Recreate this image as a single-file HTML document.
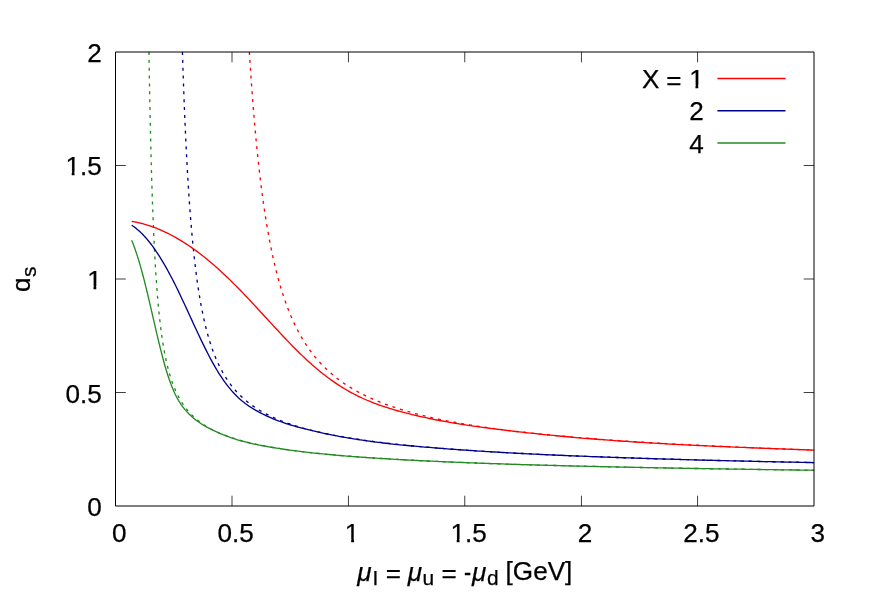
<!DOCTYPE html>
<html><head><meta charset="utf-8"><title>alpha_s</title>
<style>
html,body{margin:0;padding:0;background:#fff;}
body{width:872px;height:610px;overflow:hidden;}
svg{display:block;will-change:transform;}
text{font-family:"Liberation Sans",sans-serif;font-size:26.1px;fill:#000;stroke:#000;stroke-width:0.25px;}
.it{font-style:italic;}
.sub{font-size:20.9px;}
.curves path{fill:none;stroke-width:1.33;}
</style></head><body>
<svg width="872" height="610" viewBox="0 0 872 610">
<rect width="872" height="610" fill="#fff"/>
<path d="M232.00,506.00 v-10.30 M232.00,52.00 v10.30 M348.45,506.00 v-10.30 M348.45,52.00 v10.30 M464.75,506.00 v-10.30 M464.75,52.00 v10.30 M581.45,506.00 v-10.30 M581.45,52.00 v10.30 M697.55,506.00 v-10.30 M697.55,52.00 v10.30 M115.50,392.50 h10.30 M814.00,392.50 h-10.30 M115.50,279.00 h10.30 M814.00,279.00 h-10.30 M115.50,165.50 h10.30 M814.00,165.50 h-10.30" stroke="#000" stroke-width="0.75" fill="none"/>
<g>
<text x="119.30" y="542" text-anchor="middle">0</text>
<text x="235.72" y="542" text-anchor="middle">0.5</text>
<text x="352.13" y="542" text-anchor="middle">1</text>
<text x="468.55" y="542" text-anchor="middle">1.5</text>
<text x="584.97" y="542" text-anchor="middle">2</text>
<text x="701.38" y="542" text-anchor="middle">2.5</text>
<text x="817.80" y="542" text-anchor="middle">3</text>
<text x="101.7" y="516" text-anchor="end">0</text>
<text x="101.7" y="403" text-anchor="end">0.5</text>
<text x="101.7" y="289" text-anchor="end">1</text>
<text x="101.7" y="175" text-anchor="end">1.5</text>
<text x="101.7" y="62" text-anchor="end">2</text>
</g>
<g class="curves">
<path d="M249.35,52.00 L249.38,52.44 L249.43,53.33 L249.51,54.53 L249.60,56.00 L249.71,57.69 L249.83,59.59 L249.96,61.67 L250.11,63.91 L250.27,66.31 L250.44,68.84 L250.61,71.50 L250.80,74.27 L251.00,77.15 L251.21,80.13 L251.43,83.19 L251.65,86.33 L251.88,89.54 L252.13,92.82 L252.38,96.15 L252.64,99.54 L252.90,102.97 L253.18,106.44 L253.46,109.95 L253.75,113.48 L254.05,117.04 L254.35,120.62 L254.66,124.21 L254.98,127.81 L255.30,131.43 L255.64,135.04 L255.97,138.66 L256.32,142.27 L256.67,145.88 L257.03,149.48 L257.39,153.07 L257.76,156.64 L258.14,160.20 L258.52,163.74 L258.91,167.26 L259.31,170.76 L259.71,174.23 L260.12,177.68 L260.53,181.10 L260.95,184.49 L261.37,187.85 L261.80,191.19 L262.24,194.49 L262.68,197.76 L263.13,200.99 L263.58,204.19 L264.04,207.36 L264.50,210.49 L264.97,213.59 L265.45,216.65 L265.93,219.67 L266.41,222.66 L266.90,225.61 L267.40,228.52 L267.90,231.40 L268.40,234.23 L268.91,237.03 L269.43,239.80 L269.95,242.52 L270.47,245.21 L271.00,247.86 L271.54,250.47 L272.08,253.05 L272.62,255.59 L273.17,258.10 L273.73,260.56 L274.29,263.00 L274.85,265.39 L275.42,267.75 L276.00,270.08 L276.57,272.37 L277.16,274.63 L277.74,276.85 L278.34,279.04 L278.93,281.20 L279.54,283.32 L280.14,285.42 L280.75,287.48 L281.37,289.51 L281.99,291.50 L282.61,293.47 L283.24,295.41 L283.87,297.31 L284.51,299.19 L285.15,301.04 L285.79,302.86 L286.44,304.65 L287.10,306.42 L287.76,308.15 L288.42,309.86 L289.09,311.55 L289.76,313.21 L290.43,314.84 L291.11,316.45 L291.80,318.03 L292.49,319.59 L293.18,321.12 L293.87,322.63 L294.58,324.12 L295.28,325.59 L295.99,327.03 L296.70,328.45 L297.42,329.85 L298.14,331.23 L298.86,332.58 L299.59,333.92 L300.32,335.24 L301.06,336.53 L301.80,337.81 L302.55,339.07 L303.30,340.31 L304.05,341.53 L304.80,342.73 L305.56,343.92 L306.33,345.09 L307.10,346.24 L307.87,347.37 L308.64,348.49 L309.42,349.59 L310.21,350.67 L310.99,351.74 L311.78,352.80 L312.58,353.84 L313.38,354.86 L314.18,355.87 L314.99,356.86 L315.80,357.84 L316.61,358.81 L317.43,359.76 L318.25,360.70 L319.07,361.63 L319.90,362.55 L320.73,363.45 L321.57,364.34 L322.41,365.21 L323.25,366.08 L324.09,366.93 L324.94,367.77 L325.80,368.60 L326.66,369.42 L327.52,370.23 L328.38,371.03 L329.25,371.81 L330.12,372.59 L330.99,373.35 L331.87,374.11 L332.76,374.85 L333.64,375.59 L334.53,376.32 L335.42,377.03 L336.32,377.74 L337.22,378.44 L338.12,379.13 L339.03,379.81 L339.94,380.49 L340.85,381.15 L341.77,381.81 L342.69,382.45 L343.61,383.09 L344.54,383.72 L345.47,384.35 L346.40,384.96 L347.34,385.57 L348.28,386.17 L349.22,386.77 L350.17,387.36 L351.12,387.94 L352.07,388.51 L353.03,389.07 L353.99,389.63 L354.96,390.19 L355.92,390.73 L356.89,391.27 L357.87,391.81 L358.84,392.33 L359.82,392.86 L360.81,393.37 L361.79,393.88 L362.79,394.39 L363.78,394.88 L364.78,395.38 L365.77,395.86 L366.78,396.34 L367.78,396.82 L368.79,397.29 L369.81,397.76 L370.82,398.22 L371.84,398.67 L372.86,399.13 L373.89,399.57 L374.92,400.01 L375.95,400.45 L376.99,400.88 L378.02,401.31 L379.06,401.73 L380.11,402.15 L381.16,402.56 L382.21,402.97 L383.26,403.38 L384.32,403.78 L385.38,404.18 L386.44,404.57 L387.51,404.96 L388.58,405.34 L389.65,405.72 L390.73,406.10 L391.80,406.47 L392.89,406.84 L393.97,407.21 L395.06,407.57 L396.15,407.93 L397.24,408.29 L398.34,408.64 L399.44,408.99 L400.54,409.33 L401.65,409.67 L402.76,410.01 L403.87,410.35 L404.99,410.68 L406.10,411.01 L407.23,411.33 L408.35,411.66 L409.48,411.98 L410.61,412.29 L411.74,412.61 L412.88,412.92 L414.02,413.23 L415.16,413.53 L416.30,413.83 L417.45,414.13 L418.60,414.43 L419.75,414.72 L420.91,415.02 L422.07,415.31 L423.23,415.59 L424.40,415.88 L425.57,416.16 L426.74,416.44 L427.91,416.71 L429.09,416.99 L430.27,417.26 L431.45,417.53 L432.64,417.80 L433.83,418.06 L435.02,418.32 L436.21,418.58 L437.41,418.84 L438.61,419.10 L439.81,419.35 L441.02,419.60 L442.23,419.85 L443.44,420.10 L444.66,420.35 L445.87,420.59 L447.09,420.83 L448.32,421.07 L449.54,421.31 L450.77,421.55 L452.00,421.78 L453.24,422.01 L454.47,422.24 L455.71,422.47 L456.96,422.70 L458.20,422.92 L459.45,423.14 L460.70,423.36 L461.95,423.58 L463.21,423.80 L464.47,424.02 L465.73,424.23 L467.00,424.45 L468.27,424.66 L469.54,424.87 L470.81,425.07 L472.08,425.28 L473.36,425.48 L474.64,425.69 L475.93,425.89 L477.22,426.09 L478.51,426.29 L479.80,426.49 L481.09,426.68 L482.39,426.88 L483.69,427.07 L484.99,427.26 L486.30,427.45 L487.61,427.64 L488.92,427.83 L490.23,428.01 L491.55,428.20 L492.87,428.38 L494.19,428.56 L495.52,428.74 L496.85,428.92 L498.18,429.10 L499.51,429.28 L500.84,429.46 L502.18,429.63 L503.52,429.80 L504.87,429.98 L506.21,430.15 L507.56,430.32 L508.91,430.49 L510.27,430.65 L511.62,430.82 L512.98,430.98 L514.34,431.15 L515.71,431.31 L517.08,431.47 L518.45,431.63 L519.82,431.79 L521.19,431.95 L522.57,432.11 L523.95,432.27 L525.33,432.42 L526.72,432.58 L528.11,432.73 L529.50,432.88 L530.89,433.04 L532.29,433.19 L533.69,433.34 L535.09,433.49 L536.49,433.63 L537.90,433.78 L539.31,433.93 L540.72,434.07 L542.13,434.22 L543.55,434.36 L544.97,434.50 L546.39,434.64 L547.81,434.78 L549.24,434.92 L550.67,435.06 L552.10,435.20 L553.54,435.34 L554.97,435.47 L556.41,435.61 L557.85,435.74 L559.30,435.88 L560.75,436.01 L562.20,436.14 L563.65,436.27 L565.10,436.40 L566.56,436.53 L568.02,436.66 L569.48,436.79 L570.95,436.92 L572.41,437.05 L573.88,437.17 L575.36,437.30 L576.83,437.42 L578.31,437.55 L579.79,437.67 L581.27,437.79 L582.75,437.91 L584.24,438.04 L585.73,438.16 L587.22,438.28 L588.72,438.39 L590.21,438.51 L591.71,438.63 L593.22,438.75 L594.72,438.86 L596.23,438.98 L597.74,439.09 L599.25,439.21 L600.76,439.32 L602.28,439.44 L603.80,439.55 L605.32,439.66 L606.84,439.77 L608.37,439.88 L609.90,439.99 L611.43,440.10 L612.97,440.21 L614.50,440.32 L616.04,440.43 L617.58,440.53 L619.12,440.64 L620.67,440.75 L622.22,440.85 L623.77,440.96 L625.32,441.06 L626.88,441.17 L628.44,441.27 L630.00,441.37 L631.56,441.47 L633.13,441.58 L634.69,441.68 L636.26,441.78 L637.84,441.88 L639.41,441.98 L640.99,442.08 L642.57,442.18 L644.15,442.27 L645.73,442.37 L647.32,442.47 L648.91,442.56 L650.50,442.66 L652.09,442.76 L653.69,442.85 L655.29,442.95 L656.89,443.04 L658.49,443.13 L660.10,443.23 L661.71,443.32 L663.32,443.41 L664.93,443.50 L666.55,443.60 L668.16,443.69 L669.78,443.78 L671.40,443.87 L673.03,443.96 L674.66,444.05 L676.28,444.14 L677.92,444.22 L679.55,444.31 L681.19,444.40 L682.82,444.49 L684.47,444.57 L686.11,444.66 L687.75,444.75 L689.40,444.83 L691.05,444.92 L692.70,445.00 L694.36,445.08 L696.02,445.17 L697.67,445.25 L699.34,445.34 L701.00,445.42 L702.67,445.50 L704.34,445.58 L706.01,445.66 L707.68,445.74 L709.35,445.83 L711.03,445.91 L712.71,445.99 L714.39,446.07 L716.08,446.15 L717.77,446.22 L719.45,446.30 L721.15,446.38 L722.84,446.46 L724.54,446.54 L726.23,446.61 L727.93,446.69 L729.64,446.77 L731.34,446.84 L733.05,446.92 L734.76,447.00 L736.47,447.07 L738.19,447.15 L739.90,447.22 L741.62,447.29 L743.34,447.37 L745.06,447.44 L746.79,447.52 L748.52,447.59 L750.25,447.66 L751.98,447.73 L753.71,447.81 L755.45,447.88 L757.19,447.95 L758.93,448.02 L760.67,448.09 L762.42,448.16 L764.17,448.23 L765.92,448.30 L767.67,448.37 L769.42,448.44 L771.18,448.51 L772.94,448.58 L774.70,448.65 L776.46,448.71 L778.23,448.78 L780.00,448.85 L781.77,448.92 L783.54,448.98 L785.31,449.05 L787.09,449.12 L788.87,449.18 L790.65,449.25 L792.43,449.32 L794.22,449.38 L796.00,449.45 L797.79,449.51 L799.59,449.58 L801.38,449.64 L803.18,449.70 L804.97,449.77 L806.78,449.83 L808.58,449.89 L810.38,449.96 L812.19,450.02 L814.00,450.08" stroke="#ff0000" stroke-dasharray="3 4.87"/>
<path d="M182.43,52.00 L182.46,52.98 L182.52,54.96 L182.60,57.63 L182.71,60.85 L182.83,64.55 L182.96,68.65 L183.11,73.09 L183.27,77.83 L183.45,82.84 L183.64,88.06 L183.84,93.46 L184.05,99.02 L184.27,104.71 L184.50,110.50 L184.74,116.36 L185.00,122.29 L185.26,128.24 L185.53,134.22 L185.81,140.20 L186.10,146.17 L186.40,152.12 L186.71,158.03 L187.02,163.89 L187.34,169.70 L187.68,175.44 L188.02,181.12 L188.36,186.71 L188.72,192.22 L189.08,197.65 L189.45,202.99 L189.83,208.23 L190.22,213.37 L190.61,218.42 L191.01,223.36 L191.42,228.21 L191.84,232.95 L192.26,237.59 L192.69,242.13 L193.12,246.56 L193.56,250.89 L194.01,255.13 L194.47,259.26 L194.93,263.30 L195.40,267.23 L195.87,271.07 L196.35,274.82 L196.84,278.48 L197.34,282.04 L197.84,285.52 L198.34,288.90 L198.85,292.21 L199.37,295.43 L199.90,298.56 L200.43,301.62 L200.96,304.60 L201.51,307.51 L202.05,310.34 L202.61,313.10 L203.17,315.79 L203.73,318.41 L204.30,320.97 L204.88,323.46 L205.46,325.88 L206.05,328.25 L206.64,330.56 L207.24,332.81 L207.85,335.00 L208.46,337.14 L209.07,339.23 L209.69,341.27 L210.32,343.25 L210.95,345.19 L211.59,347.08 L212.23,348.93 L212.87,350.73 L213.53,352.49 L214.18,354.21 L214.85,355.88 L215.51,357.52 L216.19,359.12 L216.86,360.68 L217.55,362.21 L218.23,363.70 L218.93,365.16 L219.63,366.59 L220.33,367.98 L221.04,369.34 L221.75,370.67 L222.47,371.98 L223.19,373.25 L223.91,374.50 L224.65,375.72 L225.38,376.91 L226.12,378.08 L226.87,379.22 L227.62,380.34 L228.38,381.44 L229.14,382.51 L229.90,383.57 L230.67,384.60 L231.45,385.61 L232.23,386.60 L233.01,387.57 L233.80,388.52 L234.59,389.45 L235.39,390.37 L236.19,391.26 L236.99,392.14 L237.81,393.01 L238.62,393.85 L239.44,394.68 L240.26,395.50 L241.09,396.30 L241.93,397.09 L242.76,397.86 L243.60,398.62 L244.45,399.36 L245.30,400.09 L246.16,400.81 L247.01,401.51 L247.88,402.21 L248.75,402.89 L249.62,403.56 L250.49,404.22 L251.37,404.86 L252.26,405.50 L253.15,406.12 L254.04,406.74 L254.94,407.34 L255.84,407.94 L256.74,408.53 L257.65,409.10 L258.57,409.67 L259.49,410.23 L260.41,410.78 L261.34,411.32 L262.27,411.85 L263.20,412.37 L264.14,412.89 L265.08,413.40 L266.03,413.90 L266.98,414.39 L267.93,414.88 L268.89,415.36 L269.85,415.83 L270.82,416.29 L271.79,416.75 L272.77,417.20 L273.75,417.65 L274.73,418.09 L275.71,418.52 L276.70,418.95 L277.70,419.37 L278.70,419.78 L279.70,420.19 L280.71,420.60 L281.72,421.00 L282.73,421.39 L283.75,421.78 L284.77,422.16 L285.79,422.54 L286.82,422.91 L287.86,423.28 L288.89,423.64 L289.93,424.00 L290.98,424.35 L292.03,424.70 L293.08,425.05 L294.13,425.39 L295.19,425.73 L296.26,426.06 L297.32,426.39 L298.39,426.71 L299.47,427.03 L300.55,427.35 L301.63,427.66 L302.71,427.97 L303.80,428.28 L304.90,428.58 L305.99,428.88 L307.09,429.17 L308.20,429.46 L309.30,429.75 L310.41,430.03 L311.53,430.32 L312.65,430.59 L313.77,430.87 L314.90,431.14 L316.02,431.41 L317.16,431.68 L318.29,431.94 L319.43,432.20 L320.58,432.46 L321.72,432.71 L322.88,432.97 L324.03,433.22 L325.19,433.46 L326.35,433.71 L327.51,433.95 L328.68,434.19 L329.85,434.42 L331.03,434.66 L332.21,434.89 L333.39,435.12 L334.58,435.35 L335.76,435.57 L336.96,435.80 L338.15,436.02 L339.35,436.23 L340.56,436.45 L341.76,436.66 L342.97,436.88 L344.19,437.09 L345.40,437.29 L346.62,437.50 L347.85,437.70 L349.07,437.91 L350.30,438.11 L351.54,438.30 L352.78,438.50 L354.02,438.69 L355.26,438.89 L356.51,439.08 L357.76,439.27 L359.01,439.45 L360.27,439.64 L361.53,439.82 L362.79,440.01 L364.06,440.19 L365.33,440.37 L366.61,440.54 L367.88,440.72 L369.16,440.89 L370.45,441.07 L371.74,441.24 L373.03,441.41 L374.32,441.58 L375.62,441.74 L376.92,441.91 L378.22,442.07 L379.53,442.24 L380.84,442.40 L382.15,442.56 L383.47,442.72 L384.79,442.87 L386.11,443.03 L387.44,443.19 L388.77,443.34 L390.10,443.49 L391.44,443.64 L392.78,443.79 L394.12,443.94 L395.46,444.09 L396.81,444.23 L398.16,444.38 L399.52,444.52 L400.88,444.67 L402.24,444.81 L403.60,444.95 L404.97,445.09 L406.34,445.23 L407.72,445.36 L409.10,445.50 L410.48,445.64 L411.86,445.77 L413.25,445.90 L414.64,446.04 L416.03,446.17 L417.43,446.30 L418.82,446.43 L420.23,446.56 L421.63,446.68 L423.04,446.81 L424.45,446.94 L425.87,447.06 L427.29,447.18 L428.71,447.31 L430.13,447.43 L431.56,447.55 L432.99,447.67 L434.42,447.79 L435.86,447.91 L437.30,448.03 L438.74,448.14 L440.19,448.26 L441.63,448.37 L443.09,448.49 L444.54,448.60 L446.00,448.72 L447.46,448.83 L448.92,448.94 L450.39,449.05 L451.86,449.16 L453.33,449.27 L454.81,449.38 L456.29,449.48 L457.77,449.59 L459.25,449.70 L460.74,449.80 L462.23,449.91 L463.73,450.01 L465.22,450.12 L466.72,450.22 L468.23,450.32 L469.73,450.42 L471.24,450.52 L472.75,450.62 L474.27,450.72 L475.78,450.82 L477.30,450.92 L478.83,451.02 L480.35,451.11 L481.88,451.21 L483.42,451.31 L484.95,451.40 L486.49,451.50 L488.03,451.59 L489.57,451.68 L491.12,451.78 L492.67,451.87 L494.22,451.96 L495.78,452.05 L497.34,452.14 L498.90,452.23 L500.46,452.32 L502.03,452.41 L503.60,452.50 L505.17,452.59 L506.75,452.67 L508.33,452.76 L509.91,452.85 L511.49,452.93 L513.08,453.02 L514.67,453.10 L516.26,453.19 L517.86,453.27 L519.46,453.36 L521.06,453.44 L522.66,453.52 L524.27,453.60 L525.88,453.68 L527.49,453.77 L529.11,453.85 L530.73,453.93 L532.35,454.01 L533.97,454.09 L535.60,454.16 L537.23,454.24 L538.86,454.32 L540.50,454.40 L542.14,454.47 L543.78,454.55 L545.42,454.63 L547.07,454.70 L548.72,454.78 L550.37,454.85 L552.03,454.93 L553.68,455.00 L555.35,455.08 L557.01,455.15 L558.67,455.22 L560.34,455.30 L562.02,455.37 L563.69,455.44 L565.37,455.51 L567.05,455.58 L568.73,455.65 L570.42,455.72 L572.10,455.79 L573.79,455.86 L575.49,455.93 L577.19,456.00 L578.88,456.07 L580.59,456.14 L582.29,456.21 L584.00,456.27 L585.71,456.34 L587.42,456.41 L589.14,456.47 L590.86,456.54 L592.58,456.60 L594.30,456.67 L596.03,456.74 L597.76,456.80 L599.49,456.86 L601.22,456.93 L602.96,456.99 L604.70,457.06 L606.44,457.12 L608.19,457.18 L609.94,457.24 L611.69,457.31 L613.44,457.37 L615.20,457.43 L616.96,457.49 L618.72,457.55 L620.48,457.61 L622.25,457.67 L624.02,457.73 L625.79,457.79 L627.56,457.85 L629.34,457.91 L631.12,457.97 L632.90,458.03 L634.69,458.09 L636.48,458.15 L638.27,458.21 L640.06,458.26 L641.86,458.32 L643.66,458.38 L645.46,458.44 L647.26,458.49 L649.07,458.55 L650.88,458.61 L652.69,458.66 L654.50,458.72 L656.32,458.77 L658.14,458.83 L659.96,458.88 L661.79,458.94 L663.61,458.99 L665.44,459.05 L667.28,459.10 L669.11,459.15 L670.95,459.21 L672.79,459.26 L674.63,459.31 L676.48,459.36 L678.33,459.42 L680.18,459.47 L682.03,459.52 L683.89,459.57 L685.75,459.63 L687.61,459.68 L689.47,459.73 L691.34,459.78 L693.21,459.83 L695.08,459.88 L696.95,459.93 L698.83,459.98 L700.71,460.03 L702.59,460.08 L704.47,460.13 L706.36,460.18 L708.25,460.23 L710.14,460.28 L712.04,460.32 L713.93,460.37 L715.83,460.42 L717.73,460.47 L719.64,460.52 L721.55,460.56 L723.45,460.61 L725.37,460.66 L727.28,460.71 L729.20,460.75 L731.12,460.80 L733.04,460.85 L734.97,460.89 L736.89,460.94 L738.82,460.98 L740.76,461.03 L742.69,461.07 L744.63,461.12 L746.57,461.17 L748.51,461.21 L750.45,461.25 L752.40,461.30 L754.35,461.34 L756.30,461.39 L758.26,461.43 L760.22,461.48 L762.18,461.52 L764.14,461.56 L766.10,461.61 L768.07,461.65 L770.04,461.69 L772.01,461.74 L773.99,461.78 L775.97,461.82 L777.94,461.86 L779.93,461.91 L781.91,461.95 L783.90,461.99 L785.89,462.03 L787.88,462.07 L789.87,462.11 L791.87,462.16 L793.87,462.20 L795.87,462.24 L797.88,462.28 L799.88,462.32 L801.89,462.36 L803.91,462.40 L805.92,462.44 L807.94,462.48 L809.95,462.52 L811.98,462.56 L814.00,462.60" stroke="#00008b" stroke-dasharray="3 4.87"/>
<path d="M148.96,52.00 L149.00,54.06 L149.06,58.19 L149.15,63.69 L149.26,70.26 L149.38,77.66 L149.53,85.72 L149.68,94.28 L149.86,103.23 L150.04,112.46 L150.24,121.86 L150.45,131.35 L150.67,140.88 L150.90,150.37 L151.15,159.79 L151.40,169.07 L151.67,178.20 L151.95,187.14 L152.23,195.87 L152.53,204.37 L152.83,212.64 L153.15,220.65 L153.47,228.40 L153.80,235.90 L154.14,243.14 L154.49,250.12 L154.85,256.84 L155.22,263.32 L155.59,269.54 L155.97,275.53 L156.36,281.28 L156.76,286.80 L157.17,292.11 L157.58,297.20 L158.00,302.09 L158.43,306.78 L158.87,311.29 L159.31,315.61 L159.77,319.76 L160.22,323.75 L160.69,327.57 L161.16,331.25 L161.64,334.78 L162.13,338.17 L162.62,341.43 L163.12,344.57 L163.63,347.58 L164.14,350.48 L164.66,353.27 L165.19,355.96 L165.72,358.55 L166.26,361.04 L166.81,363.44 L167.36,365.76 L167.92,367.99 L168.48,370.15 L169.05,372.23 L169.63,374.24 L170.21,376.18 L170.80,378.05 L171.40,379.86 L172.00,381.61 L172.61,383.31 L173.22,384.95 L173.84,386.54 L174.46,388.08 L175.09,389.57 L175.73,391.01 L176.37,392.41 L177.02,393.77 L177.67,395.09 L178.33,396.37 L179.00,397.61 L179.67,398.82 L180.34,399.99 L181.02,401.13 L181.71,402.24 L182.40,403.32 L183.10,404.37 L183.80,405.39 L184.51,406.39 L185.23,407.35 L185.94,408.30 L186.67,409.22 L187.40,410.11 L188.13,410.99 L188.87,411.84 L189.62,412.67 L190.37,413.48 L191.12,414.27 L191.88,415.05 L192.65,415.80 L193.42,416.54 L194.20,417.26 L194.98,417.97 L195.76,418.66 L196.55,419.33 L197.35,419.99 L198.15,420.64 L198.96,421.27 L199.77,421.88 L200.58,422.49 L201.40,423.08 L202.23,423.66 L203.06,424.23 L203.89,424.79 L204.73,425.33 L205.57,425.87 L206.42,426.39 L207.28,426.91 L208.13,427.41 L209.00,427.91 L209.87,428.39 L210.74,428.87 L211.61,429.34 L212.50,429.80 L213.38,430.25 L214.27,430.69 L215.17,431.13 L216.07,431.56 L216.97,431.98 L217.88,432.39 L218.80,432.80 L219.71,433.19 L220.64,433.59 L221.56,433.97 L222.50,434.35 L223.43,434.72 L224.37,435.09 L225.32,435.45 L226.27,435.81 L227.22,436.16 L228.18,436.50 L229.14,436.84 L230.11,437.18 L231.08,437.50 L232.05,437.83 L233.03,438.15 L234.02,438.46 L235.00,438.77 L236.00,439.08 L236.99,439.38 L238.00,439.67 L239.00,439.96 L240.01,440.25 L241.02,440.54 L242.04,440.82 L243.06,441.09 L244.09,441.36 L245.12,441.63 L246.16,441.90 L247.19,442.16 L248.24,442.41 L249.28,442.67 L250.34,442.92 L251.39,443.17 L252.45,443.41 L253.51,443.65 L254.58,443.89 L255.65,444.13 L256.73,444.36 L257.81,444.59 L258.89,444.81 L259.98,445.04 L261.07,445.26 L262.17,445.48 L263.27,445.69 L264.37,445.90 L265.48,446.11 L266.59,446.32 L267.70,446.53 L268.82,446.73 L269.95,446.93 L271.08,447.13 L272.21,447.32 L273.34,447.52 L274.48,447.71 L275.62,447.90 L276.77,448.09 L277.92,448.27 L279.08,448.45 L280.23,448.64 L281.40,448.81 L282.56,448.99 L283.73,449.17 L284.91,449.34 L286.08,449.51 L287.27,449.68 L288.45,449.85 L289.64,450.02 L290.83,450.18 L292.03,450.34 L293.23,450.50 L294.43,450.66 L295.64,450.82 L296.85,450.98 L298.07,451.13 L299.29,451.29 L300.51,451.44 L301.74,451.59 L302.97,451.74 L304.20,451.88 L305.44,452.03 L306.68,452.17 L307.93,452.32 L309.17,452.46 L310.43,452.60 L311.68,452.74 L312.94,452.87 L314.20,453.01 L315.47,453.15 L316.74,453.28 L318.02,453.41 L319.29,453.54 L320.57,453.67 L321.86,453.80 L323.15,453.93 L324.44,454.06 L325.74,454.18 L327.04,454.31 L328.34,454.43 L329.64,454.55 L330.95,454.67 L332.27,454.79 L333.58,454.91 L334.90,455.03 L336.23,455.15 L337.56,455.26 L338.89,455.38 L340.22,455.49 L341.56,455.61 L342.90,455.72 L344.25,455.83 L345.60,455.94 L346.95,456.05 L348.30,456.16 L349.66,456.27 L351.02,456.37 L352.39,456.48 L353.76,456.58 L355.13,456.69 L356.51,456.79 L357.89,456.89 L359.27,457.00 L360.66,457.10 L362.05,457.20 L363.44,457.30 L364.84,457.40 L366.24,457.49 L367.64,457.59 L369.05,457.69 L370.46,457.78 L371.87,457.88 L373.29,457.97 L374.71,458.07 L376.13,458.16 L377.56,458.25 L378.99,458.34 L380.42,458.43 L381.86,458.52 L383.30,458.61 L384.74,458.70 L386.19,458.79 L387.64,458.88 L389.10,458.96 L390.55,459.05 L392.01,459.14 L393.48,459.22 L394.94,459.31 L396.41,459.39 L397.89,459.47 L399.36,459.56 L400.84,459.64 L402.33,459.72 L403.81,459.80 L405.30,459.88 L406.80,459.96 L408.29,460.04 L409.79,460.12 L411.30,460.20 L412.80,460.27 L414.31,460.35 L415.82,460.43 L417.34,460.51 L418.86,460.58 L420.38,460.66 L421.91,460.73 L423.43,460.81 L424.97,460.88 L426.50,460.95 L428.04,461.03 L429.58,461.10 L431.12,461.17 L432.67,461.24 L434.22,461.31 L435.78,461.38 L437.33,461.45 L438.89,461.52 L440.46,461.59 L442.02,461.66 L443.59,461.73 L445.17,461.80 L446.74,461.86 L448.32,461.93 L449.90,462.00 L451.49,462.06 L453.08,462.13 L454.67,462.20 L456.27,462.26 L457.86,462.33 L459.46,462.39 L461.07,462.45 L462.68,462.52 L464.29,462.58 L465.90,462.64 L467.52,462.71 L469.14,462.77 L470.76,462.83 L472.38,462.89 L474.01,462.95 L475.64,463.01 L477.28,463.07 L478.92,463.13 L480.56,463.19 L482.20,463.25 L483.85,463.31 L485.50,463.37 L487.15,463.43 L488.81,463.49 L490.47,463.54 L492.13,463.60 L493.80,463.66 L495.47,463.71 L497.14,463.77 L498.81,463.83 L500.49,463.88 L502.17,463.94 L503.85,463.99 L505.54,464.05 L507.23,464.10 L508.92,464.16 L510.62,464.21 L512.31,464.26 L514.02,464.32 L515.72,464.37 L517.43,464.42 L519.14,464.48 L520.85,464.53 L522.57,464.58 L524.29,464.63 L526.01,464.68 L527.73,464.74 L529.46,464.79 L531.19,464.84 L532.93,464.89 L534.66,464.94 L536.40,464.99 L538.15,465.04 L539.89,465.09 L541.64,465.14 L543.39,465.18 L545.15,465.23 L546.90,465.28 L548.66,465.33 L550.43,465.38 L552.19,465.43 L553.96,465.47 L555.73,465.52 L557.51,465.57 L559.29,465.61 L561.07,465.66 L562.85,465.71 L564.64,465.75 L566.43,465.80 L568.22,465.84 L570.01,465.89 L571.81,465.93 L573.61,465.98 L575.42,466.02 L577.22,466.07 L579.03,466.11 L580.84,466.16 L582.66,466.20 L584.48,466.25 L586.30,466.29 L588.12,466.33 L589.95,466.38 L591.78,466.42 L593.61,466.46 L595.45,466.50 L597.28,466.55 L599.12,466.59 L600.97,466.63 L602.81,466.67 L604.66,466.71 L606.51,466.75 L608.37,466.80 L610.23,466.84 L612.09,466.88 L613.95,466.92 L615.82,466.96 L617.69,467.00 L619.56,467.04 L621.43,467.08 L623.31,467.12 L625.19,467.16 L627.07,467.20 L628.96,467.24 L630.85,467.28 L632.74,467.31 L634.63,467.35 L636.53,467.39 L638.43,467.43 L640.33,467.47 L642.23,467.51 L644.14,467.54 L646.05,467.58 L647.97,467.62 L649.88,467.66 L651.80,467.69 L653.72,467.73 L655.65,467.77 L657.57,467.80 L659.50,467.84 L661.44,467.88 L663.37,467.91 L665.31,467.95 L667.25,467.99 L669.19,468.02 L671.14,468.06 L673.09,468.09 L675.04,468.13 L676.99,468.16 L678.95,468.20 L680.91,468.23 L682.87,468.27 L684.84,468.30 L686.81,468.34 L688.78,468.37 L690.75,468.41 L692.73,468.44 L694.70,468.47 L696.69,468.51 L698.67,468.54 L700.66,468.58 L702.65,468.61 L704.64,468.64 L706.63,468.68 L708.63,468.71 L710.63,468.74 L712.63,468.77 L714.64,468.81 L716.65,468.84 L718.66,468.87 L720.67,468.90 L722.69,468.94 L724.71,468.97 L726.73,469.00 L728.75,469.03 L730.78,469.06 L732.81,469.09 L734.84,469.13 L736.87,469.16 L738.91,469.19 L740.95,469.22 L742.99,469.25 L745.04,469.28 L747.09,469.31 L749.14,469.34 L751.19,469.37 L753.25,469.40 L755.31,469.43 L757.37,469.46 L759.43,469.49 L761.50,469.52 L763.57,469.55 L765.64,469.58 L767.71,469.61 L769.79,469.64 L771.87,469.67 L773.95,469.70 L776.03,469.73 L778.12,469.76 L780.21,469.79 L782.30,469.82 L784.40,469.85 L786.50,469.87 L788.60,469.90 L790.70,469.93 L792.80,469.96 L794.91,469.99 L797.02,470.02 L799.14,470.04 L801.25,470.07 L803.37,470.10 L805.49,470.13 L807.61,470.16 L809.74,470.18 L811.87,470.21 L814.00,470.24" stroke="#228b22" stroke-dasharray="3 4.87"/>
<path d="M131.71,221.39 L131.77,221.40 L131.91,221.42 L132.10,221.45 L132.32,221.49 L132.59,221.53 L132.89,221.58 L133.22,221.64 L133.58,221.70 L133.97,221.77 L134.38,221.85 L134.83,221.93 L135.29,222.02 L135.78,222.12 L136.29,222.22 L136.83,222.33 L137.39,222.45 L137.97,222.57 L138.57,222.70 L139.19,222.85 L139.83,223.00 L140.48,223.15 L141.16,223.32 L141.86,223.50 L142.58,223.69 L143.31,223.88 L144.06,224.09 L144.83,224.31 L145.62,224.53 L146.42,224.77 L147.24,225.02 L148.08,225.28 L148.93,225.56 L149.80,225.84 L150.68,226.14 L151.59,226.45 L152.50,226.78 L153.43,227.12 L154.38,227.47 L155.34,227.84 L156.32,228.22 L157.31,228.61 L158.32,229.02 L159.34,229.45 L160.38,229.89 L161.43,230.35 L162.49,230.82 L163.57,231.31 L164.66,231.82 L165.76,232.34 L166.88,232.88 L168.01,233.44 L169.16,234.02 L170.32,234.62 L171.49,235.23 L172.68,235.87 L173.88,236.52 L175.09,237.19 L176.31,237.89 L177.55,238.60 L178.80,239.33 L180.06,240.09 L181.33,240.86 L182.62,241.66 L183.92,242.48 L185.23,243.32 L186.56,244.18 L187.89,245.06 L189.24,245.97 L190.60,246.90 L191.97,247.85 L193.35,248.83 L194.75,249.83 L196.16,250.85 L197.57,251.90 L199.00,252.97 L200.45,254.07 L201.90,255.19 L203.36,256.34 L204.84,257.51 L206.32,258.71 L207.82,259.94 L209.33,261.19 L210.85,262.46 L212.38,263.76 L213.93,265.09 L215.48,266.45 L217.04,267.83 L218.62,269.24 L220.20,270.68 L221.80,272.15 L223.41,273.64 L225.02,275.16 L226.65,276.71 L228.29,278.28 L229.94,279.89 L231.60,281.51 L233.27,283.17 L234.95,284.85 L236.64,286.55 L238.34,288.28 L240.05,290.03 L241.77,291.81 L243.51,293.61 L245.25,295.43 L247.00,297.27 L248.76,299.14 L250.53,301.02 L252.32,302.92 L254.11,304.85 L255.91,306.79 L257.72,308.74 L259.54,310.72 L261.37,312.70 L263.21,314.71 L265.06,316.72 L266.92,318.75 L268.79,320.79 L270.67,322.83 L272.56,324.88 L274.46,326.94 L276.37,329.00 L278.29,331.07 L280.22,333.13 L282.15,335.19 L284.10,337.25 L286.05,339.31 L288.02,341.35 L289.99,343.39 L291.97,345.42 L293.97,347.44 L295.97,349.45 L297.98,351.45 L300.00,353.42 L302.03,355.39 L304.07,357.33 L306.11,359.25 L308.17,361.15 L310.24,363.03 L312.31,364.88 L314.39,366.70 L316.49,368.49 L318.59,370.25 L320.70,371.98 L322.82,373.68 L324.94,375.34 L327.08,376.97 L329.23,378.56 L331.38,380.12 L333.54,381.64 L335.72,383.13 L337.90,384.59 L340.09,386.01 L342.28,387.39 L344.49,388.74 L346.70,390.05 L348.93,391.33 L351.16,392.57 L353.40,393.77 L355.65,394.94 L357.91,396.07 L360.17,397.17 L362.45,398.23 L364.73,399.26 L367.02,400.25 L369.32,401.21 L371.63,402.14 L373.95,403.05 L376.27,403.92 L378.61,404.77 L380.95,405.59 L383.30,406.39 L385.66,407.17 L388.02,407.92 L390.40,408.65 L392.78,409.37 L395.17,410.07 L397.57,410.75 L399.98,411.42 L402.39,412.07 L404.82,412.72 L407.25,413.35 L409.69,413.97 L412.14,414.57 L414.59,415.17 L417.06,415.75 L419.53,416.32 L422.01,416.88 L424.50,417.43 L426.99,417.97 L429.50,418.50 L432.01,419.02 L434.53,419.53 L437.06,420.02 L439.59,420.51 L442.13,420.99 L444.69,421.46 L447.24,421.92 L449.81,422.37 L452.39,422.81 L454.97,423.24 L457.56,423.67 L460.16,424.09 L462.76,424.50 L465.37,424.90 L467.99,425.29 L470.62,425.68 L473.26,426.07 L475.90,426.44 L478.55,426.81 L481.21,427.18 L483.88,427.54 L486.55,427.89 L489.24,428.25 L491.93,428.59 L494.62,428.94 L497.33,429.28 L500.04,429.61 L502.76,429.95 L505.49,430.28 L508.22,430.61 L510.96,430.93 L513.71,431.25 L516.47,431.57 L519.23,431.89 L522.01,432.20 L524.78,432.51 L527.57,432.81 L530.37,433.12 L533.17,433.41 L535.98,433.71 L538.79,434.00 L541.61,434.30 L544.45,434.58 L547.28,434.87 L550.13,435.15 L552.98,435.43 L555.84,435.70 L558.71,435.97 L561.58,436.24 L564.46,436.51 L567.35,436.77 L570.25,437.03 L573.15,437.29 L576.06,437.54 L578.98,437.79 L581.90,438.04 L584.83,438.29 L587.77,438.53 L590.72,438.77 L593.67,439.01 L596.63,439.24 L599.60,439.47 L602.57,439.70 L605.56,439.92 L608.54,440.15 L611.54,440.37 L614.54,440.58 L617.55,440.80 L620.57,441.01 L623.59,441.22 L626.62,441.42 L629.66,441.63 L632.70,441.83 L635.75,442.03 L638.81,442.22 L641.88,442.41 L644.95,442.61 L648.03,442.79 L651.12,442.98 L654.21,443.16 L657.31,443.34 L660.41,443.52 L663.53,443.70 L666.65,443.87 L669.78,444.05 L672.91,444.22 L676.05,444.38 L679.20,444.55 L682.35,444.71 L685.51,444.87 L688.68,445.03 L691.86,445.18 L695.04,445.34 L698.23,445.49 L701.42,445.64 L704.62,445.78 L707.83,445.93 L711.05,446.08 L714.27,446.22 L717.50,446.36 L720.73,446.50 L723.97,446.64 L727.22,446.78 L730.48,446.92 L733.74,447.05 L737.01,447.19 L740.28,447.32 L743.57,447.46 L746.85,447.59 L750.15,447.72 L753.45,447.86 L756.76,447.99 L760.07,448.12 L763.40,448.25 L766.72,448.38 L770.06,448.51 L773.40,448.64 L776.75,448.77 L780.10,448.90 L783.46,449.03 L786.83,449.16 L790.20,449.28 L793.58,449.41 L796.97,449.53 L800.36,449.65 L803.76,449.78 L807.17,449.90 L810.58,450.01 L814.00,450.13" stroke="#ff0000"/>
<path d="M131.71,225.23 L131.77,225.27 L131.91,225.36 L132.10,225.48 L132.32,225.63 L132.59,225.80 L132.89,226.00 L133.22,226.23 L133.58,226.48 L133.97,226.76 L134.38,227.06 L134.83,227.38 L135.29,227.74 L135.78,228.12 L136.29,228.52 L136.83,228.96 L137.39,229.42 L137.97,229.91 L138.57,230.44 L139.19,230.99 L139.83,231.58 L140.48,232.20 L141.16,232.86 L141.86,233.55 L142.58,234.27 L143.31,235.04 L144.06,235.84 L144.83,236.68 L145.62,237.56 L146.42,238.48 L147.24,239.44 L148.08,240.45 L148.93,241.49 L149.80,242.59 L150.68,243.73 L151.59,244.91 L152.50,246.15 L153.43,247.43 L154.38,248.76 L155.34,250.15 L156.32,251.58 L157.31,253.07 L158.32,254.60 L159.34,256.20 L160.38,257.84 L161.43,259.55 L162.49,261.31 L163.57,263.12 L164.66,265.00 L165.76,266.93 L166.88,268.93 L168.01,270.98 L169.16,273.09 L170.32,275.27 L171.49,277.51 L172.68,279.80 L173.88,282.16 L175.09,284.57 L176.31,287.04 L177.55,289.56 L178.80,292.14 L180.06,294.77 L181.33,297.45 L182.62,300.18 L183.92,302.95 L185.23,305.77 L186.56,308.62 L187.89,311.52 L189.24,314.45 L190.60,317.41 L191.97,320.40 L193.35,323.41 L194.75,326.44 L196.16,329.48 L197.57,332.52 L199.00,335.57 L200.45,338.61 L201.90,341.64 L203.36,344.66 L204.84,347.65 L206.32,350.63 L207.82,353.57 L209.33,356.47 L210.85,359.33 L212.38,362.15 L213.93,364.91 L215.48,367.61 L217.04,370.25 L218.62,372.82 L220.20,375.31 L221.80,377.73 L223.41,380.07 L225.02,382.34 L226.65,384.53 L228.29,386.64 L229.94,388.67 L231.60,390.63 L233.27,392.50 L234.95,394.30 L236.64,396.01 L238.34,397.64 L240.05,399.20 L241.77,400.68 L243.51,402.10 L245.25,403.45 L247.00,404.73 L248.76,405.96 L250.53,407.14 L252.32,408.27 L254.11,409.35 L255.91,410.40 L257.72,411.41 L259.54,412.39 L261.37,413.35 L263.21,414.27 L265.06,415.18 L266.92,416.05 L268.79,416.90 L270.67,417.73 L272.56,418.53 L274.46,419.30 L276.37,420.06 L278.29,420.79 L280.22,421.50 L282.15,422.19 L284.10,422.86 L286.05,423.51 L288.02,424.15 L289.99,424.76 L291.97,425.36 L293.97,425.95 L295.97,426.52 L297.98,427.08 L300.00,427.62 L302.03,428.16 L304.07,428.68 L306.11,429.20 L308.17,429.71 L310.24,430.22 L312.31,430.71 L314.39,431.20 L316.49,431.69 L318.59,432.16 L320.70,432.63 L322.82,433.09 L324.94,433.54 L327.08,433.99 L329.23,434.43 L331.38,434.86 L333.54,435.29 L335.72,435.71 L337.90,436.12 L340.09,436.53 L342.28,436.93 L344.49,437.32 L346.70,437.70 L348.93,438.08 L351.16,438.45 L353.40,438.82 L355.65,439.17 L357.91,439.53 L360.17,439.87 L362.45,440.21 L364.73,440.54 L367.02,440.87 L369.32,441.19 L371.63,441.50 L373.95,441.81 L376.27,442.11 L378.61,442.40 L380.95,442.69 L383.30,442.98 L385.66,443.26 L388.02,443.53 L390.40,443.80 L392.78,444.06 L395.17,444.32 L397.57,444.57 L399.98,444.82 L402.39,445.06 L404.82,445.29 L407.25,445.52 L409.69,445.75 L412.14,445.97 L414.59,446.19 L417.06,446.41 L419.53,446.62 L422.01,446.83 L424.50,447.04 L426.99,447.25 L429.50,447.45 L432.01,447.66 L434.53,447.86 L437.06,448.06 L439.59,448.26 L442.13,448.46 L444.69,448.66 L447.24,448.86 L449.81,449.05 L452.39,449.25 L454.97,449.44 L457.56,449.63 L460.16,449.81 L462.76,450.00 L465.37,450.18 L467.99,450.35 L470.62,450.53 L473.26,450.70 L475.90,450.87 L478.55,451.04 L481.21,451.21 L483.88,451.37 L486.55,451.54 L489.24,451.70 L491.93,451.86 L494.62,452.02 L497.33,452.18 L500.04,452.33 L502.76,452.48 L505.49,452.64 L508.22,452.79 L510.96,452.93 L513.71,453.08 L516.47,453.23 L519.23,453.37 L522.01,453.51 L524.78,453.65 L527.57,453.79 L530.37,453.93 L533.17,454.07 L535.98,454.20 L538.79,454.34 L541.61,454.47 L544.45,454.60 L547.28,454.73 L550.13,454.86 L552.98,454.99 L555.84,455.12 L558.71,455.24 L561.58,455.37 L564.46,455.49 L567.35,455.61 L570.25,455.73 L573.15,455.85 L576.06,455.97 L578.98,456.09 L581.90,456.20 L584.83,456.32 L587.77,456.43 L590.72,456.55 L593.67,456.66 L596.63,456.77 L599.60,456.88 L602.57,456.99 L605.56,457.10 L608.54,457.21 L611.54,457.31 L614.54,457.42 L617.55,457.52 L620.57,457.63 L623.59,457.73 L626.62,457.83 L629.66,457.93 L632.70,458.03 L635.75,458.13 L638.81,458.23 L641.88,458.33 L644.95,458.43 L648.03,458.52 L651.12,458.62 L654.21,458.72 L657.31,458.81 L660.41,458.90 L663.53,459.00 L666.65,459.09 L669.78,459.18 L672.91,459.27 L676.05,459.36 L679.20,459.45 L682.35,459.54 L685.51,459.63 L688.68,459.71 L691.86,459.80 L695.04,459.88 L698.23,459.97 L701.42,460.05 L704.62,460.14 L707.83,460.22 L711.05,460.30 L714.27,460.39 L717.50,460.47 L720.73,460.55 L723.97,460.63 L727.22,460.71 L730.48,460.79 L733.74,460.87 L737.01,460.94 L740.28,461.02 L743.57,461.10 L746.85,461.18 L750.15,461.25 L753.45,461.33 L756.76,461.40 L760.07,461.48 L763.40,461.55 L766.72,461.62 L770.06,461.70 L773.40,461.77 L776.75,461.84 L780.10,461.91 L783.46,461.98 L786.83,462.05 L790.20,462.12 L793.58,462.19 L796.97,462.26 L800.36,462.33 L803.76,462.40 L807.17,462.47 L810.58,462.53 L814.00,462.60" stroke="#00008b"/>
<path d="M131.71,240.24 L131.77,240.41 L131.91,240.74 L132.10,241.20 L132.32,241.77 L132.59,242.43 L132.89,243.20 L133.22,244.06 L133.58,245.01 L133.97,246.06 L134.38,247.20 L134.83,248.44 L135.29,249.77 L135.78,251.20 L136.29,252.73 L136.83,254.36 L137.39,256.09 L137.97,257.94 L138.57,259.89 L139.19,261.95 L139.83,264.12 L140.48,266.41 L141.16,268.82 L141.86,271.36 L142.58,274.01 L143.31,276.79 L144.06,279.69 L144.83,282.72 L145.62,285.87 L146.42,289.14 L147.24,292.52 L148.08,296.02 L148.93,299.62 L149.80,303.33 L150.68,307.14 L151.59,311.04 L152.50,315.03 L153.43,319.09 L154.38,323.21 L155.34,327.39 L156.32,331.60 L157.31,335.83 L158.32,340.06 L159.34,344.28 L160.38,348.48 L161.43,352.64 L162.49,356.75 L163.57,360.78 L164.66,364.72 L165.76,368.55 L166.88,372.25 L168.01,375.81 L169.16,379.23 L170.32,382.49 L171.49,385.61 L172.68,388.57 L173.88,391.37 L175.09,394.01 L176.31,396.48 L177.55,398.79 L178.80,400.95 L180.06,402.97 L181.33,404.85 L182.62,406.62 L183.92,408.28 L185.23,409.85 L186.56,411.35 L187.89,412.78 L189.24,414.16 L190.60,415.48 L191.97,416.74 L193.35,417.96 L194.75,419.12 L196.16,420.23 L197.57,421.29 L199.00,422.32 L200.45,423.29 L201.90,424.23 L203.36,425.14 L204.84,426.01 L206.32,426.85 L207.82,427.66 L209.33,428.45 L210.85,429.22 L212.38,429.98 L213.93,430.72 L215.48,431.45 L217.04,432.16 L218.62,432.86 L220.20,433.54 L221.80,434.20 L223.41,434.85 L225.02,435.49 L226.65,436.10 L228.29,436.71 L229.94,437.30 L231.60,437.87 L233.27,438.43 L234.95,438.98 L236.64,439.51 L238.34,440.02 L240.05,440.52 L241.77,441.01 L243.51,441.48 L245.25,441.94 L247.00,442.39 L248.76,442.83 L250.53,443.25 L252.32,443.66 L254.11,444.05 L255.91,444.44 L257.72,444.81 L259.54,445.17 L261.37,445.52 L263.21,445.86 L265.06,446.20 L266.92,446.52 L268.79,446.84 L270.67,447.15 L272.56,447.47 L274.46,447.77 L276.37,448.08 L278.29,448.38 L280.22,448.68 L282.15,448.98 L284.10,449.27 L286.05,449.56 L288.02,449.84 L289.99,450.11 L291.97,450.38 L293.97,450.65 L295.97,450.91 L297.98,451.16 L300.00,451.41 L302.03,451.66 L304.07,451.90 L306.11,452.14 L308.17,452.38 L310.24,452.61 L312.31,452.84 L314.39,453.06 L316.49,453.28 L318.59,453.50 L320.70,453.71 L322.82,453.92 L324.94,454.13 L327.08,454.33 L329.23,454.53 L331.38,454.73 L333.54,454.93 L335.72,455.12 L337.90,455.31 L340.09,455.50 L342.28,455.68 L344.49,455.87 L346.70,456.05 L348.93,456.22 L351.16,456.40 L353.40,456.57 L355.65,456.74 L357.91,456.91 L360.17,457.07 L362.45,457.24 L364.73,457.40 L367.02,457.56 L369.32,457.72 L371.63,457.87 L373.95,458.02 L376.27,458.18 L378.61,458.33 L380.95,458.47 L383.30,458.62 L385.66,458.76 L388.02,458.91 L390.40,459.05 L392.78,459.19 L395.17,459.33 L397.57,459.46 L399.98,459.60 L402.39,459.73 L404.82,459.86 L407.25,459.99 L409.69,460.12 L412.14,460.25 L414.59,460.37 L417.06,460.50 L419.53,460.62 L422.01,460.74 L424.50,460.86 L426.99,460.98 L429.50,461.10 L432.01,461.21 L434.53,461.33 L437.06,461.44 L439.59,461.56 L442.13,461.67 L444.69,461.78 L447.24,461.89 L449.81,462.00 L452.39,462.10 L454.97,462.21 L457.56,462.32 L460.16,462.42 L462.76,462.52 L465.37,462.63 L467.99,462.73 L470.62,462.83 L473.26,462.93 L475.90,463.02 L478.55,463.12 L481.21,463.22 L483.88,463.31 L486.55,463.41 L489.24,463.50 L491.93,463.60 L494.62,463.69 L497.33,463.78 L500.04,463.87 L502.76,463.96 L505.49,464.05 L508.22,464.14 L510.96,464.22 L513.71,464.31 L516.47,464.40 L519.23,464.48 L522.01,464.57 L524.78,464.65 L527.57,464.73 L530.37,464.81 L533.17,464.90 L535.98,464.98 L538.79,465.06 L541.61,465.14 L544.45,465.22 L547.28,465.29 L550.13,465.37 L552.98,465.45 L555.84,465.52 L558.71,465.60 L561.58,465.67 L564.46,465.75 L567.35,465.82 L570.25,465.90 L573.15,465.97 L576.06,466.04 L578.98,466.11 L581.90,466.18 L584.83,466.25 L587.77,466.32 L590.72,466.39 L593.67,466.46 L596.63,466.53 L599.60,466.60 L602.57,466.67 L605.56,466.73 L608.54,466.80 L611.54,466.87 L614.54,466.93 L617.55,467.00 L620.57,467.06 L623.59,467.12 L626.62,467.19 L629.66,467.25 L632.70,467.31 L635.75,467.38 L638.81,467.44 L641.88,467.50 L644.95,467.56 L648.03,467.62 L651.12,467.68 L654.21,467.74 L657.31,467.80 L660.41,467.86 L663.53,467.92 L666.65,467.97 L669.78,468.03 L672.91,468.09 L676.05,468.15 L679.20,468.20 L682.35,468.26 L685.51,468.32 L688.68,468.37 L691.86,468.43 L695.04,468.48 L698.23,468.53 L701.42,468.59 L704.62,468.64 L707.83,468.70 L711.05,468.75 L714.27,468.80 L717.50,468.85 L720.73,468.90 L723.97,468.96 L727.22,469.01 L730.48,469.06 L733.74,469.11 L737.01,469.16 L740.28,469.21 L743.57,469.26 L746.85,469.31 L750.15,469.36 L753.45,469.41 L756.76,469.46 L760.07,469.50 L763.40,469.55 L766.72,469.60 L770.06,469.65 L773.40,469.69 L776.75,469.74 L780.10,469.79 L783.46,469.83 L786.83,469.88 L790.20,469.93 L793.58,469.97 L796.97,470.02 L800.36,470.06 L803.76,470.11 L807.17,470.15 L810.58,470.19 L814.00,470.24" stroke="#228b22"/>
</g>
<rect x="115.5" y="52.0" width="698.50" height="454.00" fill="none" stroke="#000" stroke-width="1" stroke-linejoin="round"/>
<g>
<text><tspan x="642.03" y="88">X </tspan><tspan x="666.25" y="89">= </tspan><tspan x="689.19" y="88">1</tspan></text>
<text x="703.7" y="120" text-anchor="end">2</text>
<text x="703.7" y="153" text-anchor="end">4</text>
<g class="curves">
<path d="M717.4,78.5 H785.5" stroke="#ff0000"/>
<path d="M717.4,110.75 H785.5" stroke="#00008b"/>
<path d="M717.4,143 H785.5" stroke="#228b22"/>
</g>
</g>
<text transform="translate(29.5,292) rotate(-90)">ɑ<tspan class="sub" dx="0.5" dy="6.4">s</tspan></text>
<text><tspan class="it" x="357.2" y="581">μ</tspan><tspan class="sub" x="372.6" y="585">I </tspan><tspan x="385.8" y="582">= </tspan><tspan class="it" x="407.7" y="581">μ</tspan><tspan class="sub" x="422.6" y="585">u </tspan><tspan x="441.6" y="582">= </tspan><tspan x="464.0" y="581" textLength="7.2" lengthAdjust="spacingAndGlyphs">-</tspan><tspan class="it" x="471.9" y="581">μ</tspan><tspan class="sub" x="487.1" y="585">d </tspan><tspan x="505.6" y="580">[GeV]</tspan></text>
<g fill="#fff"><rect x="88.19" y="286" width="5.3" height="4"/><rect x="96.29" y="286" width="5.2" height="4"/><rect x="66.42" y="172" width="5.3" height="4"/><rect x="74.52" y="172" width="5.2" height="4"/><rect x="345.88" y="539" width="5.3" height="4"/><rect x="353.98" y="539" width="5.2" height="4"/><rect x="451.41" y="539" width="5.3" height="4"/><rect x="459.51" y="539" width="5.2" height="4"/><rect x="690.19" y="85" width="5.3" height="4"/><rect x="698.29" y="85" width="5.2" height="4"/></g>
</svg>
</body></html>
